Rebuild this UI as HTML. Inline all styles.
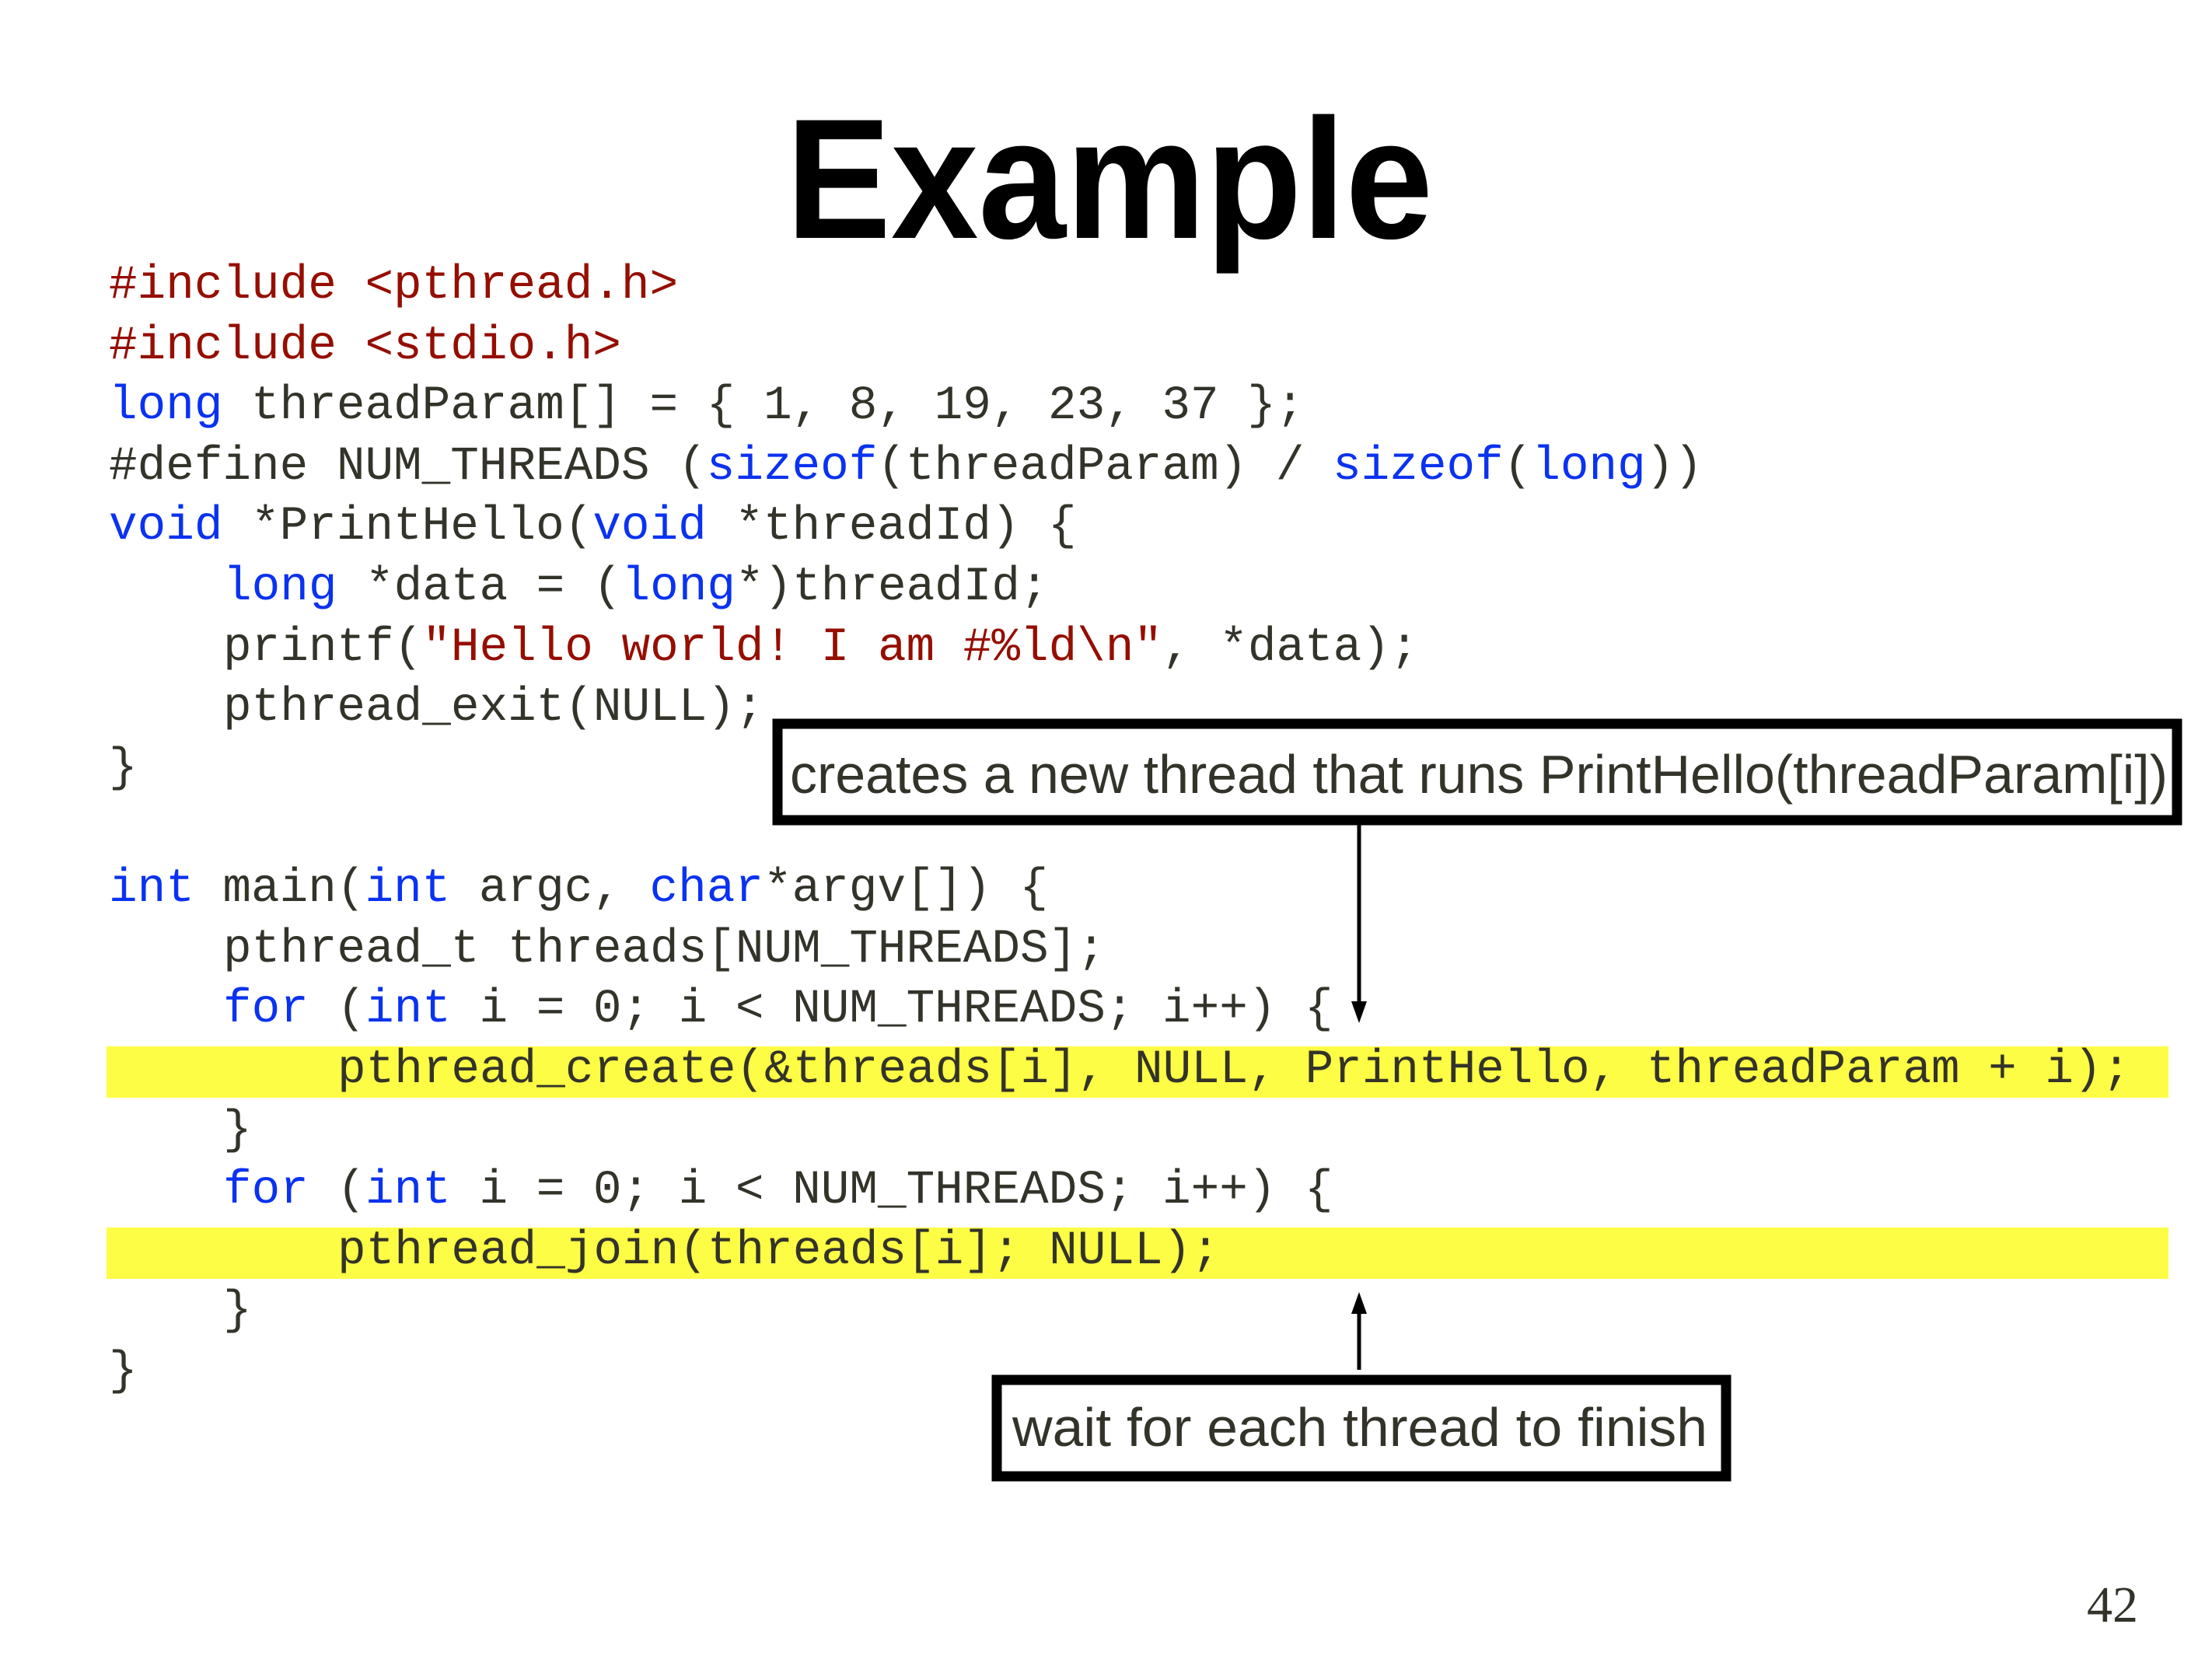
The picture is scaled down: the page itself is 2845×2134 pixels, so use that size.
<!DOCTYPE html>
<html><head><meta charset="utf-8"><style>
html,body{margin:0;padding:0;background:#fff;}
svg{display:block;}
.c{font-family:"Liberation Mono",monospace;font-size:61px;fill:#33332a;white-space:pre;}
.r{fill:#950e00;}
.b{fill:#0a32f0;}
</style></head><body>
<svg width="2845" height="2134" viewBox="0 0 2845 2134" xmlns="http://www.w3.org/2000/svg">
<rect width="2845" height="2134" fill="#fff"/>
<text x="1011" y="306" font-family="Liberation Sans, sans-serif" font-weight="bold" font-size="220" textLength="832" lengthAdjust="spacingAndGlyphs" fill="#000">Example</text>
<rect x="137" y="1346" width="2652" height="66" fill="#fdfd45"/>
<rect x="137" y="1579" width="2652" height="66" fill="#fdfd45"/>
<g class="c">
<text x="140" y="383"><tspan class="r">#include &lt;pthread.h&gt;</tspan></text>
<text x="140" y="461"><tspan class="r">#include &lt;stdio.h&gt;</tspan></text>
<text x="140" y="538"><tspan class="b">long</tspan> threadParam[] = { 1, 8, 19, 23, 37 };</text>
<text x="140" y="616">#define NUM_THREADS (<tspan class="b">sizeof</tspan>(threadParam) / <tspan class="b">sizeof</tspan>(<tspan class="b">long</tspan>))</text>
<text x="140" y="693"><tspan class="b">void</tspan> *PrintHello(<tspan class="b">void</tspan> *threadId) {</text>
<text x="287" y="771"><tspan class="b">long</tspan> *data = (<tspan class="b">long</tspan>*)threadId;</text>
<text x="287" y="849">printf(<tspan class="r">"Hello world! I am #%ld\n"</tspan>, *data);</text>
<text x="287" y="926">pthread_exit(NULL);</text>
<text x="140" y="1004">}</text>
<text x="140" y="1159"><tspan class="b">int</tspan> main(<tspan class="b">int</tspan> argc, <tspan class="b">char</tspan>*argv[]) {</text>
<text x="287" y="1237">pthread_t threads[NUM_THREADS];</text>
<text x="287" y="1314"><tspan class="b">for</tspan> (<tspan class="b">int</tspan> i = 0; i &lt; NUM_THREADS; i++) {</text>
<text x="434" y="1392">pthread_create(&amp;threads[i], NULL, PrintHello, threadParam + i);</text>
<text x="287" y="1470">}</text>
<text x="287" y="1547"><tspan class="b">for</tspan> (<tspan class="b">int</tspan> i = 0; i &lt; NUM_THREADS; i++) {</text>
<text x="434" y="1625">pthread_join(threads[i]; NULL);</text>
<text x="287" y="1702">}</text>
<text x="140" y="1780">}</text>
</g>
<rect x="1000" y="931" width="1800" height="124" fill="#fff" stroke="#000" stroke-width="13"/>
<text x="1016" y="1020" font-family="Liberation Sans, sans-serif" font-size="70" textLength="1772" lengthAdjust="spacingAndGlyphs" fill="#33332a">creates a new thread that runs PrintHello(threadParam[i])</text>
<line x1="1748" y1="1061" x2="1748" y2="1290" stroke="#000" stroke-width="5"/>
<polygon points="1738,1288 1758,1288 1748,1316" fill="#000"/>
<line x1="1748" y1="1762" x2="1748" y2="1688" stroke="#000" stroke-width="5"/>
<polygon points="1738,1690 1758,1690 1748,1662" fill="#000"/>
<rect x="1282" y="1775" width="938" height="124" fill="#fff" stroke="#000" stroke-width="13"/>
<text x="1302" y="1860" font-family="Liberation Sans, sans-serif" font-size="70" textLength="894" lengthAdjust="spacingAndGlyphs" fill="#33332a">wait for each thread to finish</text>
<text x="2684" y="2086" font-family="Liberation Serif, serif" font-size="66" fill="#33332a">42</text>
</svg>
</body></html>
